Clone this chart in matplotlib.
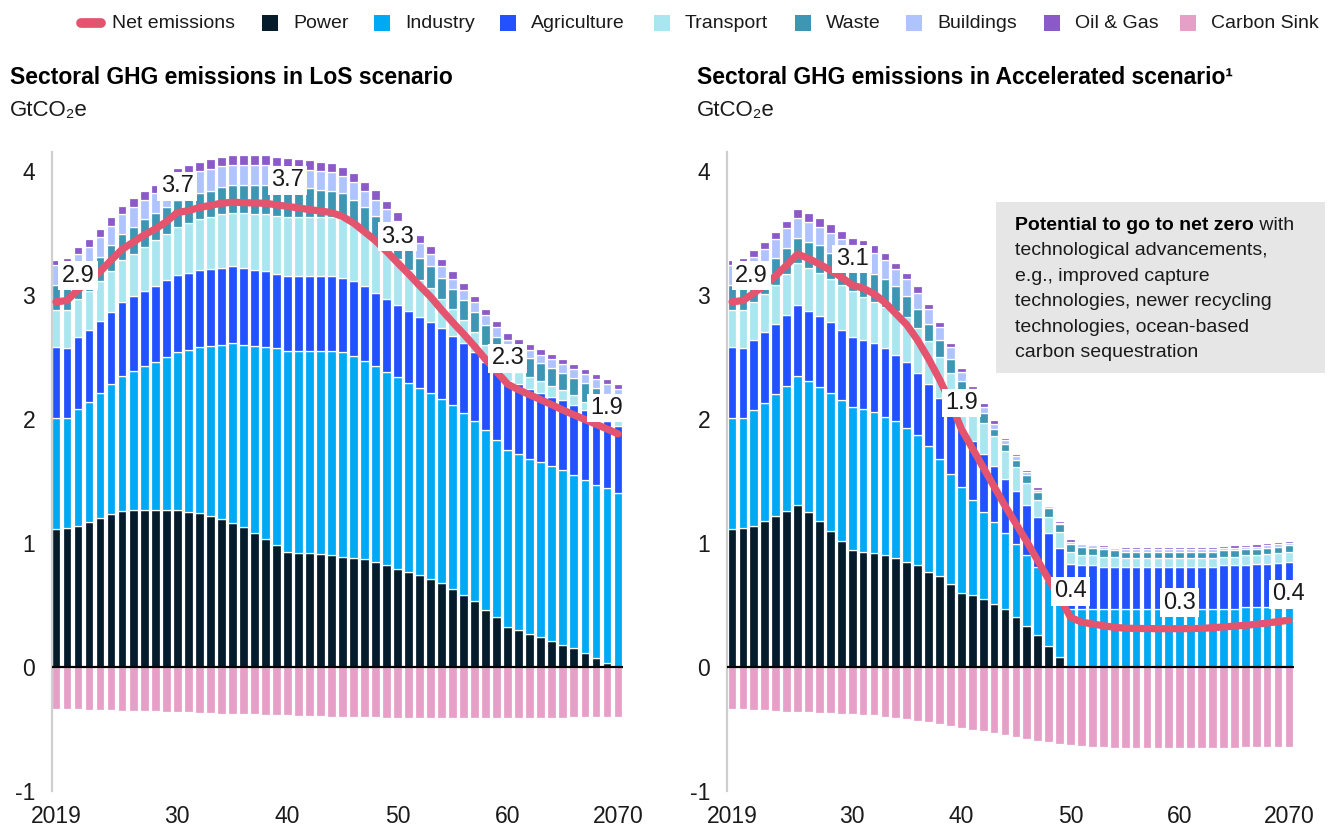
import matplotlib
matplotlib.use("Agg")
import matplotlib.pyplot as plt
from matplotlib.patches import Rectangle
from matplotlib.lines import Line2D

plt.rcParams['font.family'] = ['Liberation Sans', 'DejaVu Sans']

W, H = 1330, 830

years = list(range(2019, 2071))
tick_years = [2019, 2030, 2040, 2050, 2060, 2070]
tick_labels = ["2019", "30", "40", "50", "60", "2070"]
y_ticks = [-1, 0, 1, 2, 3, 4]
y_tick_labels = ["-1", "0", "1", "2", "3", "4"]

sector_names = ["Power", "Industry", "Agriculture", "Transport", "Waste", "Buildings", "Oil & Gas"]
sector_colors = ["#051C2C", "#00A9F4", "#2251FF", "#AAE6F0", "#3C96B4", "#AFC3FF", "#8C5AC8"]
sink_name = "Carbon Sink"
sink_color = "#E6A0C8"
net_name = "Net emissions"
net_color = "#E5546E"

# ---- Level-of-Stringency (LoS) scenario, GtCO2e per year 2019-2070 ----
los_power = [1.11, 1.12, 1.14, 1.17, 1.20, 1.23, 1.26, 1.27, 1.27, 1.27, 1.27, 1.27,
             1.25, 1.24, 1.22, 1.19, 1.16, 1.13, 1.08, 1.03, 0.98, 0.93,
             0.92, 0.92, 0.91, 0.90, 0.89, 0.88, 0.87, 0.85, 0.82, 0.79,
             0.77, 0.74, 0.71, 0.68, 0.63, 0.58, 0.53, 0.46, 0.40, 0.32,
             0.30, 0.27, 0.24, 0.21, 0.18, 0.15, 0.11, 0.07, 0.035, 0.0]
los_industry = [0.90, 0.89, 0.94, 0.97, 1.01, 1.05, 1.09, 1.12, 1.16, 1.19, 1.23, 1.27,
                1.31, 1.34, 1.37, 1.41, 1.45, 1.47, 1.51, 1.55, 1.59, 1.62,
                1.63, 1.63, 1.64, 1.65, 1.65, 1.63, 1.60, 1.58, 1.56, 1.55,
                1.52, 1.51, 1.50, 1.48, 1.48, 1.47, 1.45, 1.45, 1.43, 1.43,
                1.42, 1.41, 1.41, 1.41, 1.41, 1.40, 1.40, 1.40, 1.405, 1.40]
los_agriculture = [0.57, 0.56, 0.58, 0.58, 0.58, 0.58, 0.59, 0.60, 0.60, 0.61, 0.62, 0.62,
                   0.62, 0.62, 0.62, 0.62, 0.62, 0.62, 0.61, 0.61, 0.60, 0.60,
                   0.60, 0.60, 0.60, 0.60, 0.60, 0.60, 0.60, 0.59, 0.59, 0.58,
                   0.58, 0.57, 0.57, 0.57, 0.56, 0.56, 0.56, 0.55, 0.55, 0.56,
                   0.56, 0.56, 0.56, 0.56, 0.56, 0.56, 0.56, 0.56, 0.54, 0.54]
los_transport = [0.30, 0.31, 0.31, 0.31, 0.32, 0.33, 0.34, 0.34, 0.36, 0.37, 0.37, 0.39,
                 0.40, 0.41, 0.42, 0.43, 0.43, 0.44, 0.45, 0.46, 0.47, 0.48,
                 0.48, 0.48, 0.48, 0.48, 0.47, 0.46, 0.44, 0.42, 0.39, 0.37,
                 0.33, 0.30, 0.28, 0.24, 0.22, 0.19, 0.16, 0.14, 0.12, 0.10,
                 0.10, 0.10, 0.10, 0.09, 0.08, 0.08, 0.07, 0.07, 0.07, 0.06]
los_waste = [0.20, 0.20, 0.19, 0.20, 0.20, 0.21, 0.21, 0.22, 0.22, 0.22, 0.22, 0.22,
             0.21, 0.21, 0.21, 0.22, 0.23, 0.23, 0.24, 0.24, 0.24, 0.24,
             0.23, 0.23, 0.22, 0.21, 0.21, 0.20, 0.20, 0.20, 0.20, 0.18,
             0.18, 0.18, 0.17, 0.17, 0.16, 0.16, 0.16, 0.16, 0.16, 0.16,
             0.15, 0.15, 0.14, 0.14, 0.14, 0.14, 0.15, 0.15, 0.15, 0.16]
los_buildings = [0.16, 0.17, 0.17, 0.16, 0.16, 0.16, 0.16, 0.16, 0.16, 0.16, 0.17, 0.18,
                 0.18, 0.18, 0.18, 0.17, 0.16, 0.16, 0.16, 0.16, 0.16, 0.16,
                 0.16, 0.15, 0.15, 0.15, 0.14, 0.14, 0.13, 0.13, 0.13, 0.13,
                 0.13, 0.12, 0.10, 0.09, 0.08, 0.08, 0.08, 0.08, 0.08, 0.07,
                 0.07, 0.07, 0.07, 0.07, 0.07, 0.07, 0.07, 0.07, 0.08, 0.08]
los_oil_gas = [0.045, 0.045, 0.055, 0.06, 0.065, 0.07, 0.07, 0.07, 0.07, 0.07, 0.07, 0.075,
               0.075, 0.075, 0.075, 0.075, 0.075, 0.075, 0.075, 0.075, 0.075, 0.075,
               0.075, 0.075, 0.075, 0.075, 0.075, 0.075, 0.075, 0.075, 0.07, 0.07,
               0.07, 0.065, 0.065, 0.06, 0.06, 0.055, 0.055, 0.05, 0.05, 0.05,
               0.045, 0.045, 0.045, 0.045, 0.04, 0.04, 0.04, 0.04, 0.04, 0.04]
los_sink = [-0.34, -0.34, -0.342, -0.345, -0.347, -0.35, -0.352, -0.354, -0.356, -0.358, -0.36, -0.36,
            -0.365, -0.37, -0.372, -0.375, -0.377, -0.38, -0.383, -0.385, -0.388, -0.39,
            -0.393, -0.396, -0.398, -0.40, -0.402, -0.404, -0.405, -0.407, -0.408, -0.41,
            -0.41, -0.41, -0.41, -0.41, -0.41, -0.41, -0.41, -0.41, -0.41, -0.41,
            -0.41, -0.41, -0.41, -0.41, -0.408, -0.406, -0.404, -0.402, -0.40, -0.40]

# ---- Accelerated scenario ----
acc_power = [1.11, 1.12, 1.14, 1.18, 1.22, 1.26, 1.31, 1.25, 1.18, 1.10, 1.02, 0.94,
             0.93, 0.92, 0.90, 0.88, 0.85, 0.82, 0.77, 0.73, 0.67, 0.60,
             0.58, 0.55, 0.51, 0.47, 0.40, 0.33, 0.26, 0.17, 0.08, 0.0,
             0.0, 0.0, 0.0, 0.0, 0.0, 0.0, 0.0, 0.0, 0.0, 0.0,
             0.0, 0.0, 0.0, 0.0, 0.0, 0.0, 0.0, 0.0, 0.0, 0.0]
acc_industry = [0.90, 0.89, 0.93, 0.95, 0.98, 1.01, 1.04, 1.06, 1.08, 1.11, 1.13, 1.16,
                1.15, 1.14, 1.12, 1.10, 1.08, 1.05, 1.01, 0.95, 0.89, 0.85,
                0.77, 0.70, 0.66, 0.61, 0.59, 0.57, 0.55, 0.53, 0.52, 0.47,
                0.47, 0.47, 0.47, 0.47, 0.47, 0.47, 0.47, 0.47, 0.47, 0.47,
                0.47, 0.47, 0.47, 0.47, 0.47, 0.48, 0.48, 0.485, 0.485, 0.49]
acc_agriculture = [0.57, 0.56, 0.57, 0.57, 0.57, 0.57, 0.57, 0.56, 0.57, 0.57, 0.57, 0.56,
                   0.56, 0.55, 0.55, 0.54, 0.53, 0.50, 0.50, 0.49, 0.49, 0.48,
                   0.47, 0.47, 0.45, 0.44, 0.43, 0.41, 0.40, 0.38, 0.36, 0.36,
                   0.35, 0.35, 0.34, 0.34, 0.34, 0.34, 0.34, 0.34, 0.34, 0.34,
                   0.34, 0.34, 0.34, 0.35, 0.35, 0.34, 0.35, 0.345, 0.355, 0.36]
acc_transport = [0.30, 0.31, 0.30, 0.31, 0.31, 0.33, 0.34, 0.35, 0.35, 0.35, 0.36, 0.37,
                 0.34, 0.33, 0.33, 0.35, 0.36, 0.36, 0.35, 0.33, 0.32, 0.28,
                 0.26, 0.25, 0.24, 0.22, 0.19, 0.17, 0.14, 0.13, 0.13, 0.10,
                 0.08, 0.08, 0.08, 0.08, 0.07, 0.07, 0.07, 0.07, 0.07, 0.07,
                 0.07, 0.07, 0.07, 0.07, 0.07, 0.08, 0.07, 0.08, 0.08, 0.08]
acc_waste = [0.20, 0.20, 0.19, 0.20, 0.22, 0.21, 0.20, 0.21, 0.22, 0.21, 0.20, 0.20,
             0.21, 0.23, 0.23, 0.20, 0.17, 0.16, 0.14, 0.14, 0.11, 0.10,
             0.10, 0.08, 0.06, 0.06, 0.06, 0.07, 0.06, 0.07, 0.06, 0.06,
             0.07, 0.06, 0.06, 0.05, 0.05, 0.05, 0.05, 0.05, 0.05, 0.05,
             0.05, 0.05, 0.05, 0.05, 0.05, 0.05, 0.05, 0.05, 0.05, 0.05]
acc_buildings = [0.16, 0.17, 0.18, 0.16, 0.15, 0.16, 0.16, 0.16, 0.15, 0.16, 0.17, 0.17,
                 0.19, 0.17, 0.15, 0.14, 0.14, 0.13, 0.12, 0.10, 0.10, 0.07,
                 0.06, 0.05, 0.04, 0.03, 0.03, 0.02, 0.02, 0.02, 0.015, 0.02,
                 0.02, 0.02, 0.02, 0.02, 0.02, 0.02, 0.02, 0.02, 0.02, 0.02,
                 0.02, 0.02, 0.02, 0.02, 0.02, 0.02, 0.02, 0.02, 0.02, 0.02]
acc_oil_gas = [0.045, 0.045, 0.05, 0.06, 0.06, 0.06, 0.07, 0.07, 0.07, 0.07, 0.07, 0.06,
               0.06, 0.06, 0.06, 0.05, 0.05, 0.05, 0.04, 0.04, 0.03, 0.03,
               0.03, 0.03, 0.03, 0.02, 0.02, 0.02, 0.02, 0.01, 0.015, 0.02,
               0.01, 0.01, 0.01, 0.01, 0.015, 0.015, 0.015, 0.015, 0.015, 0.015,
               0.015, 0.015, 0.02, 0.015, 0.02, 0.015, 0.02, 0.02, 0.02, 0.02]
acc_sink = [-0.34, -0.34, -0.345, -0.35, -0.355, -0.36, -0.36, -0.365, -0.37, -0.37, -0.375, -0.38,
            -0.385, -0.39, -0.40, -0.41, -0.42, -0.435, -0.445, -0.46, -0.475, -0.49,
            -0.505, -0.52, -0.535, -0.55, -0.565, -0.58, -0.593, -0.605, -0.618, -0.63,
            -0.638, -0.643, -0.647, -0.65, -0.652, -0.654, -0.655, -0.656, -0.656, -0.656,
            -0.655, -0.654, -0.653, -0.652, -0.65, -0.648, -0.646, -0.645, -0.644, -0.643]

los_sectors = [los_power, los_industry, los_agriculture, los_transport,
               los_waste, los_buildings, los_oil_gas]
acc_sectors = [acc_power, acc_industry, acc_agriculture, acc_transport,
               acc_waste, acc_buildings, acc_oil_gas]

# years whose net value is annotated, with a sideways nudge (in years)
los_label_years = [(2019, 2.0), (2030, 0.0), (2040, 0.0), (2050, 0.0), (2060, 0.0), (2070, -1.0)]
acc_label_years = [(2019, 1.8), (2030, 0.0), (2040, 0.0), (2050, 0.0), (2060, 0.0), (2070, 0.0)]

titles = ["Sectoral GHG emissions in LoS scenario",
          "Sectoral GHG emissions in Accelerated scenario\u00b9"]
unit_label = "GtCO\u2082e"
note_bold = "Potential to go to net zero"
note_rest = [" with", "technological advancements,", "e.g., improved capture",
             "technologies, newer recycling", "technologies, ocean-based",
             "carbon sequestration"]

TEXT = "#1a1a1a"

fig = plt.figure(figsize=(W / 100, H / 100), dpi=100)


def draw_panel(rect, xlim, sectors, sink, label_years):
    ax = fig.add_axes(rect)
    bottom = [0.0] * len(years)
    for vals, col in zip(sectors, sector_colors):
        ax.bar(years, vals, bottom=bottom, width=0.8, color=col,
               edgecolor="white", linewidth=0.9, zorder=2)
        bottom = [b + v for b, v in zip(bottom, vals)]
    ax.bar(years, sink, width=0.8, color=sink_color,
           edgecolor="white", linewidth=0.9, zorder=2)
    net = [g + s for g, s in zip(bottom, sink)]

    ax.plot([xlim[0], 2070.45], [0, 0], color="black", lw=1.6, zorder=3,
            solid_capstyle="butt")
    ax.plot(years, net, color=net_color, lw=5.2, zorder=4,
            solid_capstyle="round", solid_joinstyle="round")

    for yr, dx in label_years:
        v = net[years.index(yr)]
        ax.text(yr + dx, v + 0.21, f"{v:.1f}", ha="center", va="center",
                fontsize=17, color=TEXT, zorder=5,
                bbox=dict(boxstyle="square,pad=0.14", fc="white", ec="none"))

    ax.set_xlim(*xlim)
    ax.set_ylim(-1.0, 4.15)
    ax.set_xticks(tick_years)
    ax.set_xticklabels(tick_labels)
    ax.set_yticks(y_ticks)
    ax.set_yticklabels(y_tick_labels)
    ax.tick_params(axis="both", length=0, labelsize=16.5, colors=TEXT)
    ax.tick_params(axis="y", pad=12)
    ax.tick_params(axis="x", pad=10)
    for side in ("top", "right", "bottom"):
        ax.spines[side].set_visible(False)
    ax.spines["left"].set_color("#CFCFCF")
    ax.spines["left"].set_linewidth(1.6)
    ax.set_facecolor("none")
    return ax


y0 = (H - 791) / H
hgt = (791 - 152.4) / H
ax1 = draw_panel([52 / W, y0, 572.6 / W, hgt], (2018.64, 2070.6),
                 los_sectors, los_sink, los_label_years)
ax2 = draw_panel([727 / W, y0, 568.5 / W, hgt], (2018.54, 2070.6),
                 acc_sectors, acc_sink, acc_label_years)

# titles and units
for x_px, title in zip([10, 697], titles):
    fig.text(x_px / W, 1 - 77 / H, title, fontsize=16.5, fontweight="bold",
             color="black", va="center", ha="left")
    fig.text(x_px / W, 1 - 110 / H, unit_label, fontsize=16, color=TEXT,
             va="center", ha="left")

# legend row
leg_y = 1 - 23 / H
fig.add_artist(Line2D([81 / W, 101 / W], [leg_y, leg_y], transform=fig.transFigure,
                      color=net_color, lw=7, solid_capstyle="round"))
fig.text(112 / W, leg_y, net_name, fontsize=14, color=TEXT, va="center", ha="left")
legend_text_x = [293, 405, 531, 685, 826, 937, 1075, 1211]
legend_names = sector_names + [sink_name]
legend_colors = sector_colors + [sink_color]
sq = 16
for tx, name, col in zip(legend_text_x, legend_names, legend_colors):
    fig.add_artist(Rectangle(((tx - 31) / W, leg_y - sq / 2 / H), sq / W, sq / H,
                             transform=fig.transFigure, fc=col, ec="none"))
    fig.text(tx / W, leg_y, name, fontsize=14, color=TEXT, va="center", ha="left")

# note box on the accelerated panel
fig.add_artist(Rectangle((996 / W, 1 - 373 / H), (1325 - 996) / W, (373 - 202) / H,
                         transform=fig.transFigure, fc="#E6E6E6", ec="none", zorder=3))
renderer = fig.canvas.get_renderer()
line_ys = [225, 250.5, 276, 301.5, 327, 352.5]
tb = fig.text(1015 / W, 1 - line_ys[0] / H, note_bold, fontsize=14, fontweight="bold",
              color="black", va="center", ha="left", zorder=4)
bb = tb.get_window_extent(renderer=renderer)
fig.text(bb.x1 / W, 1 - line_ys[0] / H, note_rest[0], fontsize=14, color=TEXT,
         va="center", ha="left", zorder=4)
for ly, txt in zip(line_ys[1:], note_rest[1:]):
    fig.text(1015 / W, 1 - ly / H, txt, fontsize=14, color=TEXT,
             va="center", ha="left", zorder=4)

fig.savefig("out.png", dpi=100, facecolor="white")
